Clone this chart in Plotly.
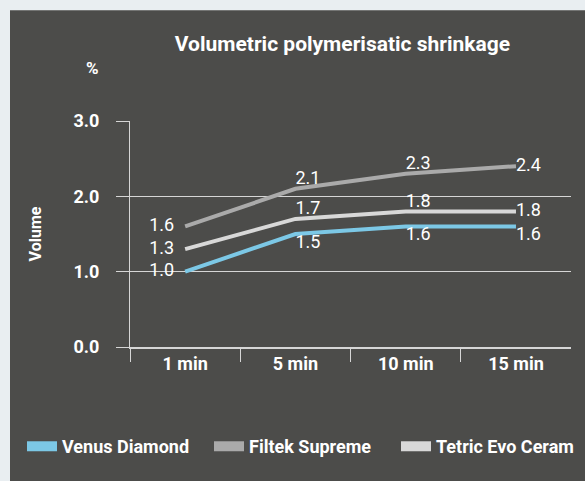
import plotly.graph_objects as go

# Data
times = ["1 min", "5 min", "10 min", "15 min"]
venus_diamond = [1.0, 1.5, 1.6, 1.6]
filtek_supreme = [1.6, 2.1, 2.3, 2.4]
tetric_evo_ceram = [1.3, 1.7, 1.8, 1.8]
y_ticks = [0, 1, 2, 3]

FONT = "Roboto, Arial, sans-serif"
BG_OUTER = "#e9eef1"
BG_PANEL = "#4c4c4a"
GRID = "#d6d6d6"

SERIES = [
    # name, values, colour, label positions
    ("Venus Diamond", venus_diamond, "#7cc8e6",
     ["middle left", "bottom right", "bottom right", "bottom right"]),
    ("Filtek Supreme", filtek_supreme, "#aaaaaa",
     ["middle left", "top right", "top right", "middle right"]),
    ("Tetric Evo Ceram", tetric_evo_ceram, "#d8d8d8",
     ["middle left", "top right", "top right", "middle right"]),
]

fig = go.Figure()

for name, values, color, positions in SERIES:
    fig.add_trace(
        go.Scatter(
            x=times,
            y=values,
            mode="lines+markers+text",
            line=dict(color=color, width=4),
            # invisible markers only push the labels away from the line
            marker=dict(size=[16, 0, 0, 0], opacity=0, color=color),
            text=[f"{v:.1f}" for v in values],
            textposition=positions,
            textfont=dict(family=FONT, size=18, color="white"),
            showlegend=False,
            hoverinfo="skip",
        )
    )

# legend-only entries with thick swatches
for name, values, color, _ in SERIES:
    fig.add_trace(
        go.Scatter(
            x=[None],
            y=[None],
            mode="lines",
            name=name,
            line=dict(color=color, width=10),
        )
    )

# dark panel behind the chart
fig.add_shape(
    type="rect",
    xref="paper",
    yref="paper",
    x0=(10 - 130) / 441,
    x1=1.2,
    y0=-1.0,
    y1=(347.3 - 10) / 226.3,
    fillcolor=BG_PANEL,
    line=dict(width=0),
    layer="below",
)

fig.add_annotation(
    text="<b>%</b>",
    xref="paper",
    yref="paper",
    x=(92 - 130) / 441,
    y=(347.3 - 68) / 226.3,
    xanchor="center",
    yanchor="middle",
    showarrow=False,
    font=dict(family=FONT, size=17, color="white"),
)

fig.update_layout(
    width=585,
    height=481,
    margin=dict(l=130, r=14, t=121, b=134),
    paper_bgcolor=BG_OUTER,
    plot_bgcolor="rgba(0,0,0,0)",
    font=dict(family=FONT, color="white"),
    title=dict(
        text="<b>Volumetric polymerisatic shrinkage</b>",
        xref="container",
        yref="container",
        x=342.5 / 585,
        xanchor="center",
        y=1 - 44 / 481,
        yanchor="middle",
        font=dict(family=FONT, size=21, color="white"),
    ),
    xaxis=dict(
        type="category",
        range=[-0.5, 3.499],
        tickson="boundaries",
        ticks="outside",
        ticklen=13,
        tickcolor=GRID,
        tickwidth=1,
        showline=True,
        linecolor=GRID,
        linewidth=1.5,
        showgrid=False,
        tickfont=dict(family=FONT, size=18, color="white", weight="bold"),
    ),
    yaxis=dict(
        range=[0, 3],
        tickvals=y_ticks,
        tickformat=".1f",
        ticks="outside",
        ticklen=13,
        tickcolor=GRID,
        tickwidth=1,
        showgrid=True,
        gridcolor=GRID,
        gridwidth=1,
        showline=True,
        linecolor=GRID,
        linewidth=1,
        zeroline=False,
        ticklabelstandoff=13,
        tickfont=dict(family=FONT, size=18, color="white", weight="bold"),
        title=dict(
            text="Volume",
            standoff=27,
            font=dict(family=FONT, size=16, color="white", weight="bold"),
        ),
    ),
    legend=dict(
        orientation="h",
        x=(22 - 130) / 441,
        xanchor="left",
        y=(347.3 - 447) / 226.3,
        yanchor="middle",
        entrywidth=142,
        entrywidthmode="pixels",
        itemwidth=30,
        font=dict(family=FONT, size=18, color="white", weight="bold"),
        bgcolor="rgba(0,0,0,0)",
    ),
)

# the page body has a default 8px margin; drop it so the figure sits at 0,0
fig.write_html(
    "out.html",
    config={"displayModeBar": False},
    post_script="document.body.style.margin = '0px';",
)
